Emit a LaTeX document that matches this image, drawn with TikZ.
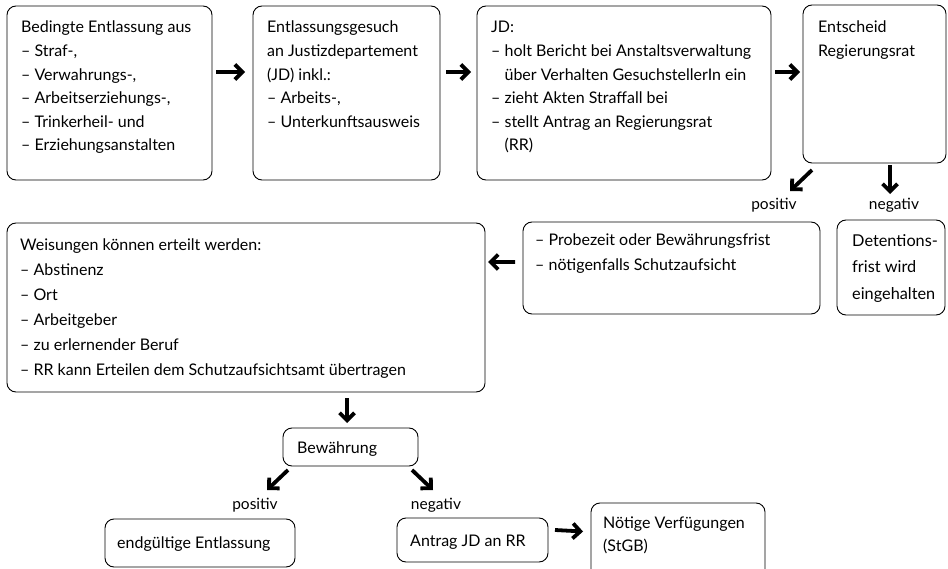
\documentclass[tikz,border=0pt]{standalone}
\usepackage{fontspec}
\setmainfont{Lato}
\usetikzlibrary{arrows.meta}
\newcommand\mylines[1]{\begin{tabular}[t]{@{}l@{}}#1\end{tabular}}
\begin{document}
\begin{tikzpicture}[x=1bp,y=-1bp,
  box/.style={draw=black, line width=0.9bp, rounded corners=9bp, inner sep=0pt, outer sep=0pt, anchor=north west},
  txt/.style={anchor=base west, inner sep=0pt, font=\fontsize{16bp}{23.6bp}\selectfont},
  txtw/.style={txt, font=\fontsize{16bp}{24.8bp}\selectfont},
  txtp/.style={txt, font=\fontsize{16bp}{25bp}\selectfont},
  txtd/.style={txt, font=\fontsize{16.3bp}{26bp}\selectfont},
  lbl/.style={anchor=base, inner sep=0pt, font=\fontsize{15.5bp}{17bp}\selectfont},
  bigarr/.style={line width=3.8bp, -{Straight Barb[length=7.5bp,width=15bp]}}]
\useasboundingbox (0,0) rectangle (948,569);
\clip (0,0) rectangle (948,569);
% boxes
\node[box, minimum width=205bp, minimum height=174bp] (b1) at (7,6) {};
\node[box, minimum width=187bp, minimum height=174bp] (b2) at (253,6) {};
\node[box, minimum width=294bp, minimum height=174bp] (b3) at (477,6) {};
\node[box, minimum width=143bp, minimum height=158bp] (b4) at (803,5) {};
\node[box, minimum width=297bp, minimum height=92bp] (bp) at (523,222) {};
\node[box, minimum width=478bp, minimum height=169bp] (bw) at (7,223) {};
\node[box, minimum width=108bp, minimum height=95bp] (bd) at (837,220) {};
\node[box, minimum width=135bp, minimum height=38bp] (bb) at (283,428) {};
\node[box, minimum width=190bp, minimum height=48bp] (be) at (105,519) {};
\node[box, minimum width=151bp, minimum height=44bp] (ba) at (397,518) {};
\node[box, minimum width=174bp, minimum height=80bp] (bn) at (591,503) {};
% texts
\node[txt] (t1) at (21,33) {\mylines{Bedingte Entlassung aus\\– Straf-,\\– Verwahrungs-,\\– Arbeitserziehungs-,\\– Trinkerheil- und\\– Erziehungsanstalten}};
\node[txt] (t2) at (267,33) {\mylines{Entlassungsgesuch\\an Justizdepartement\\(JD) inkl.:\\– Arbeits-,\\– Unterkunftsausweis}};
\node[txt] (t3) at (491,33) {\mylines{JD:\\– holt Bericht bei Anstaltsverwaltung\\\phantom{– }über Verhalten GesuchstellerIn ein\\– zieht Akten Straffall bei\\– stellt Antrag an Regierungsrat\\\phantom{– }(RR)}};
\node[txt] (t4) at (818,33) {\mylines{Entscheid\\Regierungsrat}};
\node[txtp] (tp) at (535,246) {\mylines{– Probezeit oder Bewährungsfrist\\– nötigenfalls Schutzaufsicht}};
\node[txtw] (tw) at (20,251) {\mylines{Weisungen können erteilt werden:\\– Abstinenz\\– Ort\\– Arbeitgeber\\– zu erlernender Beruf\\– RR kann Erteilen dem Schutzaufsichtsamt übertragen}};
\node[txtd] (td) at (852,247) {\mylines{Detentions-\\frist wird\\eingehalten}};
\node[txt] (tb) at (297,453) {Bewährung};
\node[txt] (te) at (117,548) {endgültige Entlassung};
\node[txt] (ta) at (410,546) {Antrag JD an RR};
\node[txt] (tn) at (603,528) {\mylines{Nötige Verfügungen\\(StGB)}};
% labels
\node[lbl] (l1) at (774,210) {positiv};
\node[lbl] (l2) at (894,210) {negativ};
\node[lbl] (l3) at (255,509) {positiv};
\node[lbl] (l4) at (436,509) {negativ};
% arrows
\draw[bigarr] ([shift={(4,-21)}]b1.east) -- ([shift={(-8,-21)}]b2.west);
\draw[bigarr] ([shift={(6,-21)}]b2.east) -- ([shift={(-6,-21)}]b3.west);
\draw[bigarr] ([shift={(4,-21)}]b3.east) -- ([shift={(-3,-12)}]b4.west);
\draw[bigarr] ([shift={(9,7)}]b4.south west) -- ([shift={(-13,28)}]b4.south west);
\draw[bigarr] ([shift={(15.5,2)}]b4.south) -- ([shift={(15.5,31)}]b4.south);
\draw[bigarr] ([shift={(-8,-6)}]bp.west) -- ([shift={(3,-45.5)}]bw.east);
\draw[bigarr] ([shift={(101,6)}]bw.south) -- ([shift={(-3.5,-5)}]bb.north);
\draw[bigarr] ([shift={(5,4)}]bb.south west) -- ([shift={(-28,-29)}]be.north east);
\draw[bigarr] ([shift={(-6,4)}]bb.south east) -- ([shift={(-39.5,-28)}]ba.north);
\draw[bigarr] ([shift={(7,-10)}]ba.east) -- ([shift={(-8,-11.5)}]bn.west);
\end{tikzpicture}
\end{document}
